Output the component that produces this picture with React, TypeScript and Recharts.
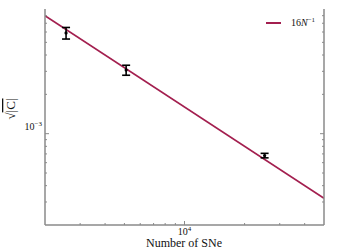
import React from 'react';
import { ComposedChart, XAxis, YAxis, Line, Scatter, ErrorBar, Customized } from 'recharts';

const pointN = [2550, 5100, 25200];
const pointValue = [0.0059, 0.00307, 0.00068];
const pointError = [0.0006, 0.00027, 0.000027];
const lineN = [2000, 50000];
const lineValue = [0.008, 0.00032];
const xTicks = [3000, 4000, 5000, 6000, 7000, 8000, 9000, 10000, 20000, 30000, 40000];
const yTicks = [0.0003, 0.0004, 0.0005, 0.0006, 0.0007, 0.0008, 0.0009, 0.001, 0.002, 0.003, 0.004, 0.005, 0.006, 0.007, 0.008];
const xMajorTick = 10000;
const yMajorTick = 0.001;
const xTickLabel = ['10', '4'];
const yTickLabel = ['10', '\u22123'];
const legendLabel = ['16', 'N', '\u22121'];
const xTitle = 'Number of SNe';

const pointData = pointN.map((n, i) => ({ n, v: pointValue[i], err: pointError[i] }));
const lineData = lineN.map((n, i) => ({ n, v: lineValue[i] }));

const AXIS = '#8a8a8a';
const LINE = '#a31f4f';
const FONT = '"Liberation Serif", "DejaVu Serif", serif';

const isMajor = (v: number, m: number) => Math.abs(v - m) / m < 1e-6;

const BottomTick = (p: any) => {
  const major = isMajor(p.payload.value, xMajorTick);
  return (
    <g>
      <line x1={p.x} x2={p.x} y1={p.y} y2={p.y - (major ? 4 : 2)} stroke={AXIS} strokeWidth={1} />
      {major && (
        <text x={p.x} y={p.y + 10} textAnchor="middle" fontFamily={FONT} fontSize={10} fill="#111">
          {xTickLabel[0]}
          <tspan dy={-4} fontSize={7}>{xTickLabel[1]}</tspan>
        </text>
      )}
    </g>
  );
};

const TopTick = (p: any) => {
  const major = isMajor(p.payload.value, xMajorTick);
  return <line x1={p.x} x2={p.x} y1={p.y} y2={p.y + (major ? 4 : 2)} stroke={AXIS} strokeWidth={1} />;
};

const LeftTick = (p: any) => {
  const major = isMajor(p.payload.value, yMajorTick);
  return (
    <g>
      <line x1={p.x} x2={p.x + (major ? 4 : 2)} y1={p.y} y2={p.y} stroke={AXIS} strokeWidth={1} />
      {major && (
        <text x={p.x - 3} y={p.y - 4} textAnchor="end" fontFamily={FONT} fontSize={10} fill="#111">
          {yTickLabel[0]}
          <tspan dy={-4} fontSize={7}>{yTickLabel[1]}</tspan>
        </text>
      )}
    </g>
  );
};

const RightTick = (p: any) => {
  const major = isMajor(p.payload.value, yMajorTick);
  return <line x1={p.x} x2={p.x - (major ? 4 : 2)} y1={p.y} y2={p.y} stroke={AXIS} strokeWidth={1} />;
};

const Extras = () => (
  <g>
    <text x={184} y={247} textAnchor="middle" fontFamily={FONT} fontSize={12} fill="#111">
      {xTitle}
    </text>
    <text
      transform="translate(15,109) rotate(-90)"
      textAnchor="middle"
      fontFamily={FONT}
      fontSize={13}
      fill="#111"
    >
      {'\u221A'}
      <tspan style={{ textDecoration: 'overline' }}>|C|</tspan>
    </text>
    <line x1={266} x2={281} y1={23} y2={23} stroke={LINE} strokeWidth={2} />
    <text x={291} y={26} fontFamily={FONT} fontSize={10} fill="#111">
      {legendLabel[0]}
      <tspan fontStyle="italic">{legendLabel[1]}</tspan>
      <tspan dy={-4} fontSize={7}>{legendLabel[2]}</tspan>
    </text>
  </g>
);

const Dot = (p: any) => <circle cx={p.cx} cy={p.cy} r={1.6} fill="#000" />;

export default function App() {
  return (
    <div style={{ position: 'absolute', left: 0, top: 0, width: 360, height: 252, background: '#fff' }}>
      <ComposedChart width={360} height={252} margin={{ top: 9, right: 0, bottom: 0, left: 0 }}>
        <XAxis
          xAxisId="bottom"
          dataKey="n"
          type="number"
          scale="log"
          domain={[2000, 50000]}
          allowDataOverflow
          ticks={xTicks}
          interval={0}
          height={27}
          tickSize={0}
          tickMargin={0}
          tickLine={false}
          axisLine={{ stroke: AXIS, strokeWidth: 1.5 }}
          tick={BottomTick}
        />
        <XAxis
          xAxisId="top"
          orientation="top"
          dataKey="n"
          type="number"
          scale="log"
          domain={[2000, 50000]}
          allowDataOverflow
          ticks={xTicks}
          interval={0}
          height={0}
          tickSize={0}
          tickMargin={0}
          tickLine={false}
          axisLine={{ stroke: AXIS, strokeWidth: 1.5 }}
          tick={TopTick}
        />
        <YAxis
          yAxisId="left"
          type="number"
          scale="log"
          domain={[0.0002, 0.009]}
          allowDataOverflow
          ticks={yTicks}
          interval={0}
          width={45}
          tickSize={0}
          tickMargin={0}
          tickLine={false}
          axisLine={{ stroke: AXIS, strokeWidth: 1.5 }}
          tick={LeftTick}
        />
        <YAxis
          yAxisId="right"
          orientation="right"
          type="number"
          scale="log"
          domain={[0.0002, 0.009]}
          allowDataOverflow
          ticks={yTicks}
          interval={0}
          width={36}
          tickSize={0}
          tickMargin={0}
          tickLine={false}
          axisLine={{ stroke: AXIS, strokeWidth: 1.5 }}
          tick={RightTick}
        />
        <Line
          xAxisId="bottom"
          yAxisId="left"
          data={lineData}
          dataKey="v"
          type="linear"
          stroke={LINE}
          strokeWidth={1.6}
          dot={false}
          isAnimationActive={false}
        />
        <Scatter
          xAxisId="bottom"
          yAxisId="left"
          data={pointData}
          dataKey="v"
          shape={Dot}
          isAnimationActive={false}
        >
          <ErrorBar dataKey="err" direction="y" width={4} stroke="#000" strokeWidth={1.6} />
        </Scatter>
        <Customized component={Extras} />
      </ComposedChart>
    </div>
  );
}
